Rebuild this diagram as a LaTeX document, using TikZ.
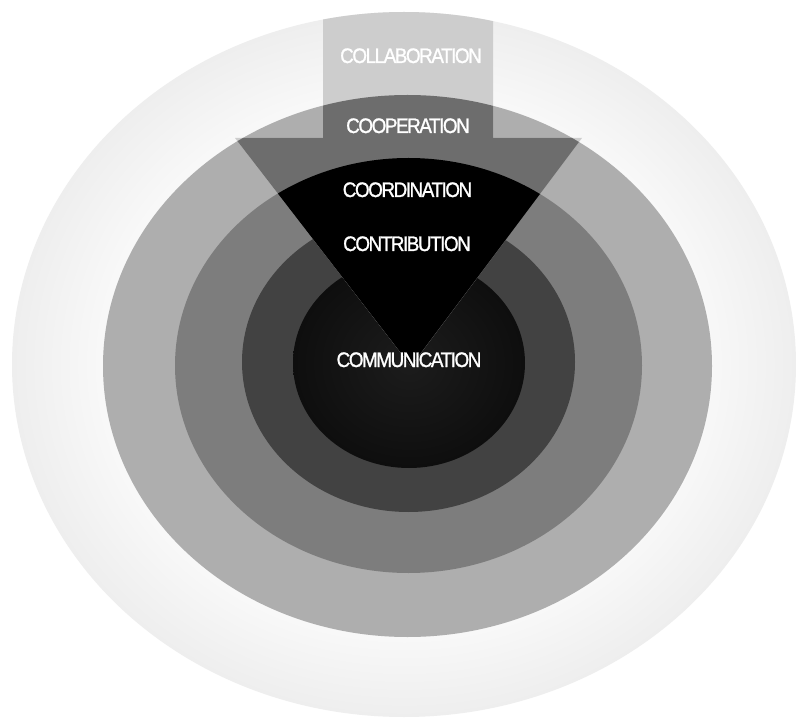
\documentclass[tikz,border=0pt]{standalone}
\usepackage{fontspec}
\newfontfamily\ringfont[FakeStretch=0.9,LetterSpace=-7,FakeBold=1.2]{Liberation Sans}

% grey levels of the rings, outermost first
\definecolor{ringOneIn}{HTML}{F8F8F8}
\definecolor{ringOneOut}{HTML}{EEEEEE}
\definecolor{ringTwo}{HTML}{AEAEAE}
\definecolor{ringThree}{HTML}{7D7D7D}
\definecolor{ringFour}{HTML}{424242}
\definecolor{coreIn}{HTML}{1C1C1C}
\definecolor{coreOut}{HTML}{0E0E0E}
% grey levels of the arrow where it crosses the rings
\definecolor{arrowLight}{HTML}{CDCDCD}
\definecolor{arrowMid}{HTML}{6D6D6D}

\pgfdeclareradialshading{outerring}{\pgfpoint{0bp}{0bp}}{%
  color(0bp)=(ringOneIn); color(19.4bp)=(ringOneIn);
  color(25bp)=(ringOneOut); color(50bp)=(ringOneOut)}
\pgfdeclareradialshading{corering}{\pgfpoint{0bp}{0bp}}{%
  color(0bp)=(coreIn); color(25bp)=(coreOut); color(50bp)=(coreOut)}

\begin{document}
\begin{tikzpicture}[x=1pt,y=-1pt,
  ringlabel/.style={font=\ringfont\fontsize{21}{21}\selectfont,
                    text=white, anchor=base, inner sep=0pt}]

\useasboundingbox (0,0) rectangle (798,719);
\fill[white] (0,0) rectangle (798,719);

% concentric rings
\shade[shading=outerring] (404,364.5) ellipse [x radius=392pt, y radius=352.5pt];
\fill[ringTwo]   (407.5,366) ellipse [x radius=304.5pt, y radius=271pt];
\fill[ringThree] (408.5,365.5) ellipse [x radius=233.5pt, y radius=207.5pt];
\fill[ringFour]  (408.5,362) ellipse [x radius=166.5pt, y radius=150pt];
\shade[shading=corering] (409,363) ellipse [x radius=116pt, y radius=105pt];

% downward arrow, darker in each ring it crosses
\begin{scope}
  \clip (323,0) -- (323,138) -- (235,138) -- (411,366) -- (582,138)
        -- (493,138) -- (493,0) -- cycle;
  \fill[arrowLight] (404,364.5) ellipse [x radius=392pt, y radius=352.5pt];
  \fill[arrowMid]   (407.5,366) ellipse [x radius=304.5pt, y radius=271pt];
  \fill[black]      (408.5,365.5) ellipse [x radius=233.5pt, y radius=207.5pt];
\end{scope}

% ring labels
\node[ringlabel] (collab) at (411,63)  {COLLABORATION};
\node[ringlabel] (coop)   at (408,133) {COOPERATION};
\node[ringlabel] (coord)  at (407.5,197) {COORDINATION};
\node[ringlabel] (contr)  at (407,251) {CONTRIBUTION};
\node[ringlabel] (comm)   at (409,367) {COMMUNICATION};

\end{tikzpicture}
\end{document}
